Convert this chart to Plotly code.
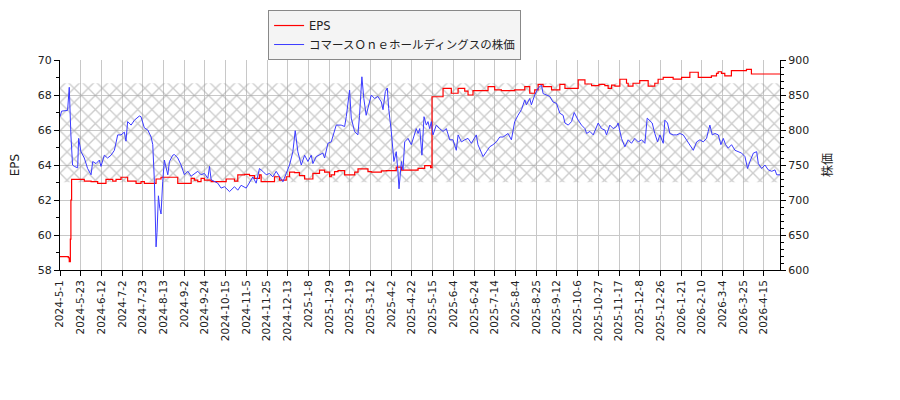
import plotly.graph_objects as go

# trading-day index -> tick label (one tick every 15 trading days)
tick_step = 15
tick_labels = ['2024-5-1', '2024-5-23', '2024-6-12', '2024-7-2', '2024-7-23', '2024-8-13',
               '2024-9-2', '2024-9-24', '2024-10-15', '2024-11-5', '2024-11-25', '2024-12-13',
               '2025-1-8', '2025-1-29', '2025-2-19', '2025-3-12', '2025-4-2', '2025-4-22',
               '2025-5-15', '2025-6-4', '2025-6-24', '2025-7-14', '2025-8-4', '2025-8-25',
               '2025-9-12', '2025-10-6', '2025-10-27', '2025-11-17', '2025-12-8', '2025-12-26',
               '2026-1-21', '2026-2-10', '2026-3-4', '2026-3-25', '2026-4-15']
last_day = 521.6

# EPS (step line)
eps_day = [0, 6.0, 6.7, 7.5, 7.9, 8.4, 17.6, 22.5, 27.3, 33.3, 38.2, 40.6, 44.2, 49.0, 55.1,
           58.7, 61.1, 69.6, 73.2, 85.3, 95.0, 97.4, 99.8, 102.2, 104.6, 109.5, 120.4, 126.4,
           128.8, 133.6, 137.3, 140.9, 144.5, 145.7, 155.4, 159.0, 163.9, 166.3, 169.9, 173.5,
           177.2, 183.2, 188.0, 191.7, 195.3, 196.5, 198.9, 201.4, 206.2, 213.5, 215.9, 223.1,
           225.5, 232.8, 236.4, 243.6, 247.3, 256.9, 259.4, 264.2, 268.5, 269.5, 277.5, 283.5,
           288.4, 293.2, 295.6, 299.2, 310.1, 314.9, 319.8, 329.4, 336.7, 340.3, 343.9, 346.4,
           350.0, 356.1, 362.1, 365.8, 375.4, 380.3, 385.1, 390.4, 394.7, 397.1, 399.6, 402.0,
           405.6, 410.4, 411.6, 415.1, 420.0, 426.1, 430.9, 433.3, 437.0, 444.2, 450.3, 456.3,
           462.4, 471.9, 475.6, 476.8, 479.2, 481.6, 486.4, 497.3, 500.9, 521.6]
eps_val = [58.76, 58.7, 58.48, 59.76, 62.0, 63.18, 63.08, 63.05, 62.95, 63.18, 63.08, 63.18, 63.3, 63.08, 62.95,
           63.05, 62.95, 63.2, 63.3, 62.95, 63.24, 63.14, 63.05, 63.24, 63.14, 63.05, 63.2, 63.08,
           63.43, 63.47, 63.39, 63.24, 63.43, 63.05, 63.33, 63.14, 63.33, 63.59, 63.56, 63.39,
           63.2, 63.52, 63.71, 63.59, 63.33, 63.43, 63.62, 63.68, 63.43, 63.59, 63.78, 63.62,
           63.59, 63.66, 63.68, 63.88, 63.71, 63.71, 63.81, 63.96, 63.85, 67.9, 68.38, 68.1,
           68.38, 68.22, 68.0, 68.25, 68.48, 68.29, 68.25, 68.29, 68.48, 68.1, 68.29, 68.61,
           68.48, 68.29, 68.61, 68.38, 68.86, 68.63, 68.53, 68.61, 68.53, 68.38, 68.57, 68.51,
           68.9, 68.67, 68.51, 68.67, 68.82, 68.51, 68.67, 68.9, 69.01, 68.91, 69.01, 69.3,
           69.01, 69.09, 69.24, 69.33, 69.24, 69.09, 69.39, 69.47, 69.2, 69.2]

# share price
price_day = [0, 1.2, 5.5, 6.7, 7.9, 9.1, 10.4, 12.8, 13.5, 15.2, 17.6, 20.0, 22.5, 23.7, 26.1,
             28.5, 29.7, 32.1, 34.5, 37.0, 39.4, 41.8, 44.2, 46.6, 47.8, 49.0, 51.5, 53.9, 57.5,
             58.7, 61.1, 63.6, 66.0, 67.2, 68.4, 69.6, 70.3, 71.3, 72.3, 73.2, 74.4, 75.6, 78.1,
             79.3, 81.7, 82.9, 85.3, 87.7, 90.1, 92.6, 95.0, 97.4, 99.8, 102.2, 104.6, 107.1,
             108.3, 109.5, 111.9, 114.3, 116.7, 119.2, 122.8, 126.4,
             128.8, 131.2, 134.9, 137.3, 139.7, 142.1, 144.5, 146.9, 149.4, 151.8, 154.2, 156.6,
             159.0, 161.5, 163.9, 166.3, 168.7, 170.4, 172.3, 174.8, 177.2, 179.6, 182.0, 183.2,
             185.6, 188.0, 190.4, 191.7, 194.1, 196.5, 198.9, 200.1, 203.7, 206.2, 207.4, 208.6,
             209.8, 211.0, 213.4, 215.8, 217.0, 218.7, 220.1, 221.8, 223.1, 225.5, 227.9, 230.3,
             232.8, 234.0, 235.7, 237.1, 238.1, 240.0, 241.9, 243.6, 244.8, 245.6, 247.3, 248.5,
             249.7, 252.1, 254.5, 258.1,
             259.4, 260.6, 262.2, 263.7, 265.4, 266.6, 267.8, 269.0, 270.2, 272.6, 275.0, 277.5,
             279.9, 282.3, 284.7, 287.1, 288.4, 290.8, 293.2, 295.6, 298.0, 300.4, 301.6, 302.8,
             305.3, 306.5, 308.9, 311.3, 313.7, 316.1, 318.6, 321.0, 324.6, 327.0, 329.4, 330.6,
             331.8, 334.3, 336.7, 337.9, 340.3, 341.5, 343.9, 346.4, 348.8, 350.0, 352.4, 354.8,
             357.2, 359.7, 362.1, 364.5, 365.8, 368.2, 370.6, 372.5, 375.4, 377.8, 380.3, 381.5,
             383.9, 386.3,
             389.9, 392.3, 394.7, 395.9, 398.3, 400.8, 403.2, 404.3, 406.8, 409.2, 411.6, 414.0,
             416.4, 418.9, 421.3, 423.7, 425.4, 427.3, 429.0, 430.9, 432.9, 434.6, 437.0, 438.2,
             440.1, 441.8, 444.2, 446.7, 449.1, 451.5, 453.9, 456.3, 458.8, 461.2, 463.6, 466.0,
             468.4, 469.6, 470.8, 472.5, 474.5, 476.9, 478.8, 480.5, 482.2, 484.1, 486.5, 489.0,
             491.4, 493.8, 496.2, 498.1, 499.8, 502.3, 504.7, 505.9, 508.3, 510.7, 513.1, 515.6,
             518.0, 519.2, 521.6]
price_val = [819, 827, 828, 861, 793, 750, 748, 746, 788, 769, 760, 745, 736, 755, 752,
             757, 748, 764, 760, 764, 771, 793, 793, 797, 784, 812, 807, 814, 820,
             819, 803, 800, 790, 779, 726, 633, 654, 706, 688, 680, 726, 757, 736,
             755, 764, 765, 760, 750, 736, 741, 734, 738, 741, 736, 738, 731,
             748, 729, 726, 724, 717, 719, 712, 719,
             714, 721, 717, 726, 733, 724, 745, 741, 736, 738, 733, 741,
             733, 726, 738, 750, 769, 799, 769, 750, 764, 755, 764, 752,
             762, 764, 767, 760, 781, 783, 800, 807, 807, 805, 819, 836,
             857, 817, 798, 793, 821, 876, 845, 821, 831, 850, 845, 848,
             840, 829, 855, 860, 831, 798, 755, 769, 741, 716, 755, 743,
             783, 788, 779, 802,
             795, 802, 764, 819, 807, 812, 802, 812, 793, 807, 802, 798,
             802, 786, 786, 771, 793, 783, 786, 788, 781, 788, 793, 779,
             767, 762, 769, 776, 779, 783, 790, 790, 795, 786, 812, 817,
             821, 829, 843, 836, 845, 836, 850, 860, 864, 852, 850, 848,
             840, 838, 824, 821, 810, 807, 812, 825, 814, 807, 802, 795,
             798, 793,
             810, 802, 800, 793, 807, 802, 805, 810, 788, 776, 786, 781,
             788, 783, 786, 781, 817, 814, 810, 795, 783, 793, 781, 814,
             810, 795, 793, 793, 795, 793, 786, 779, 771, 783, 786, 783,
             788, 798, 807, 793, 795, 793, 779, 788, 779, 774, 779, 771,
             769, 767, 762, 745, 755, 767, 769, 752, 745, 750, 743, 741,
             743, 736, 736]

# hatched band (EPS axis units)
band_low = 63.01
band_high = 68.67

font_family = 'DejaVu Sans, Noto Sans CJK JP, sans-serif'

fig = go.Figure()
fig.add_trace(go.Scatter(
    x=[0, last_day, last_day, 0, 0], y=[band_low, band_low, band_high, band_high, band_low],
    mode='lines', line=dict(width=0), fill='toself', fillcolor='rgba(0,0,0,0)',
    fillpattern=dict(shape='x', fgcolor='#999999', bgcolor='rgba(255,255,255,0)', size=10, solidity=0.25),
    showlegend=False, hoverinfo='skip'))
fig.add_trace(go.Scatter(x=eps_day, y=eps_val, name='EPS', mode='lines', line_shape='hv',
                         line=dict(color='#ff0000', width=1.2)))
fig.add_trace(go.Scatter(x=price_day, y=price_val, name='コマースＯｎｅホールディングスの株価',
                         mode='lines', yaxis='y2', line=dict(color='#3b3bff', width=1)))

# page body adds 8px on top/left, so margins are offset by 8px
fig.update_layout(
    width=900, height=400,
    margin=dict(l=52, r=128, t=52, b=138, autoexpand=False),
    paper_bgcolor='white', plot_bgcolor='white',
    font=dict(family=font_family, size=11, color='#222'),
    legend=dict(x=0.289, y=1.238, xanchor='left', yanchor='top',
                bgcolor='#f4f4f4', bordercolor='#888', borderwidth=1, font=dict(size=11.5),
                tracegroupgap=0),
    xaxis=dict(range=[0, last_day], tickvals=[i * tick_step for i in range(len(tick_labels))],
               ticktext=tick_labels, tickangle=-90, showgrid=True, gridcolor='#c8c8c8',
               showline=True, linecolor='black', ticks='outside', ticklen=5, tickcolor='black',
               zeroline=False, tickfont=dict(size=10.5), automargin=False),
    yaxis=dict(title=dict(text='EPS', font=dict(size=12)), range=[58, 70], dtick=2,
               showgrid=True, gridcolor='#c8c8c8', showline=True, linecolor='black',
               ticks='outside', ticklen=5, tickcolor='black', zeroline=False, automargin=False,
               minor=dict(dtick=1, ticks='outside', ticklen=3, tickcolor='black', showgrid=False)),
    yaxis2=dict(title=dict(text='株価', font=dict(size=12)), range=[600, 900], dtick=50,
                overlaying='y', side='right', showgrid=False, showline=True, linecolor='black',
                ticks='outside', ticklen=5, tickcolor='black', zeroline=False, automargin=False,
                minor=dict(dtick=10, ticks='outside', ticklen=3, tickcolor='black', showgrid=False)),
)

fig.write_html("out.html")
